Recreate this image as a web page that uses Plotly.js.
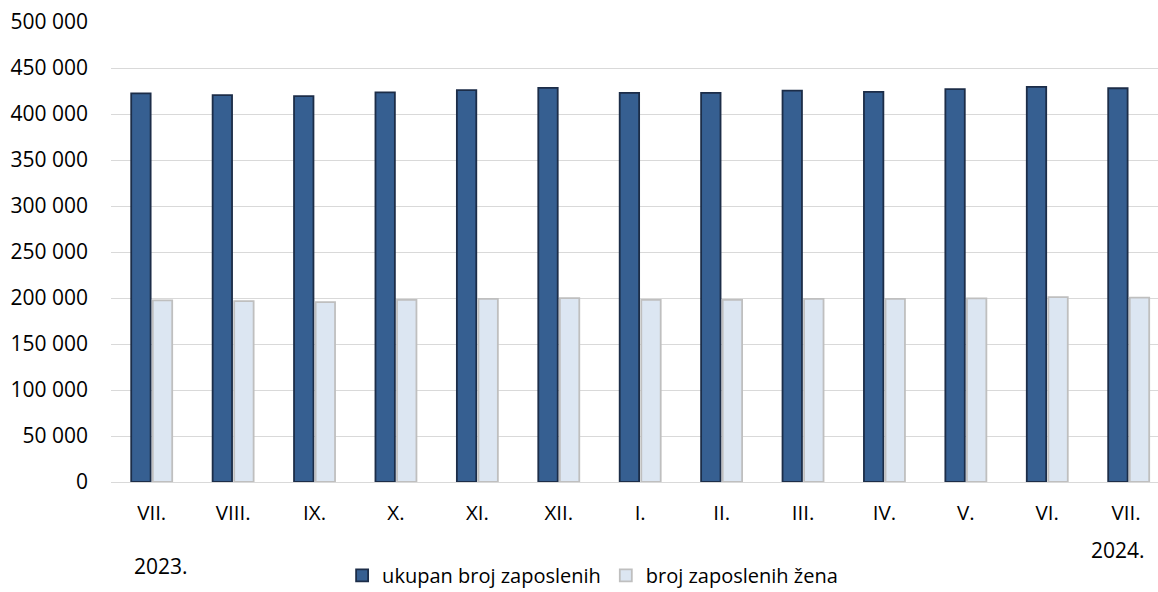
<!DOCTYPE html>
<html>
<head>
<meta charset="utf-8">
<script src="https://cdn.plot.ly/plotly-3.0.1.min.js"></script>
<style>html,body{margin:0;padding:0;background:#fff;}#chart{width:1158px;height:592px;}</style>
</head>
<body>
<div id="chart"></div>
<script>
const months = ["VII.", "VIII.", "IX.", "X.", "XI.", "XII.", "I.", "II.", "III.", "IV.", "V.", "VI.", "VII. "];
const totalEmployed = [422500, 420500, 419500, 423500, 426000, 428500, 423000, 423000, 425500, 424000, 427000, 429500, 428000];
const womenEmployed = [197500, 196500, 195500, 198000, 199000, 199800, 198000, 198000, 199000, 199000, 199500, 201000, 200500];
const seriesNames = ["ukupan broj zaposlenih", "broj zaposlenih žena"];
const yearLabels = ["2023.", "2024."];

const font = "'Open Sans', 'DejaVu Sans', sans-serif";

const traces = [
  {
    type: "bar", x: months, y: totalEmployed, name: seriesNames[0],
    marker: {color: "#365f91", line: {color: "#1c2d48", width: 1.8}},
    hoverinfo: "x+y"
  },
  {
    type: "bar", x: months, y: womenEmployed, name: seriesNames[1],
    marker: {color: "#dce6f2", line: {color: "#bfbfbf", width: 1.8}},
    hoverinfo: "x+y"
  }
];

const layout = {
  width: 1158, height: 592,
  margin: {l: 111, r: 0, t: 22, b: 110, autoexpand: false},
  paper_bgcolor: "#fff", plot_bgcolor: "#fff",
  font: {family: font, size: 20, color: "#000"},
  separators: ", ",
  barmode: "group",
  bargap: 0.47,
  bargroupgap: 0.1,
  showlegend: true,
  legend: {
    orientation: "h", x: 0.46, xanchor: "center", y: -0.203, yanchor: "middle",
    font: {family: font, size: 20, color: "#000"},
    traceorder: "normal", itemwidth: 30
  },
  xaxis: {
    type: "category",
    range: [-0.5, 12.36],
    showgrid: false, zeroline: false,
    showline: true, linecolor: "#d9d9d9", linewidth: 1,
    ticks: "", ticklabelstandoff: 12,
    tickfont: {family: font, size: 20.5, color: "#000"},
    fixedrange: true
  },
  yaxis: {
    range: [0, 500000],
    tickvals: [0, 50000, 100000, 150000, 200000, 250000, 300000, 350000, 400000, 450000, 500000],
    tickformat: ",.0f",
    showgrid: true, gridcolor: "#d9d9d9", gridwidth: 1,
    zeroline: false, showline: false,
    ticks: "", ticklabelstandoff: 22,
    tickfont: {family: font, size: 21, color: "#000"},
    fixedrange: true
  },
  annotations: [
    {text: yearLabels[0], xref: "paper", yref: "paper", x: 0.02, y: -0.183, xanchor: "left", yanchor: "middle", showarrow: false, font: {family: font, size: 21, color: "#000"}},
    {text: yearLabels[1], xref: "paper", yref: "paper", x: 0.9895, y: -0.148, xanchor: "right", yanchor: "middle", showarrow: false, font: {family: font, size: 21, color: "#000"}}
  ]
};

Plotly.newPlot("chart", traces, layout, {displayModeBar: false, staticPlot: true});
</script>
</body>
</html>
